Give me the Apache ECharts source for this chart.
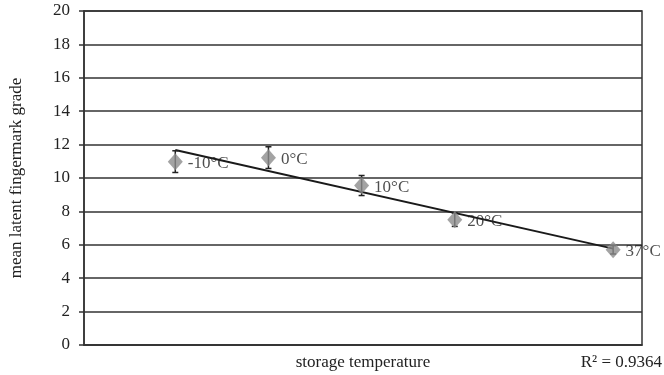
<!DOCTYPE html>
<html><head><meta charset="utf-8">
<script src="https://cdn.jsdelivr.net/npm/echarts@6/dist/echarts.min.js"></script>
<style>html,body{margin:0;padding:0;background:#fff}#c{width:664px;height:375px}</style>
</head><body><div id="c"></div>
<script>
var temps = [-10, 0, 10, 20, 37];
var labels = ['-10°C', '0°C', '10°C', '20°C', '37°C'];
var grades = [10.98, 11.22, 9.55, 7.5, 5.7];
var errors = [0.65, 0.65, 0.6, 0.4, 0.25];
var yTicks = [0, 2, 4, 6, 8, 10, 12, 14, 16, 18, 20];
var r2Text = 'R² = 0.9364';

// least-squares trend line from the data
var n = temps.length, mx = 0, my = 0;
for (var i = 0; i < n; i++) { mx += temps[i]; my += grades[i]; }
mx /= n; my /= n;
var sxy = 0, sxx = 0;
for (i = 0; i < n; i++) { sxy += (temps[i]-mx)*(grades[i]-my); sxx += (temps[i]-mx)*(temps[i]-mx); }
var slope = sxy / sxx, icpt = my - slope*mx;
var trend = [[temps[0], icpt + slope*temps[0]], [temps[n-1], icpt + slope*temps[n-1]]];

var pts = temps.map(function(t, i){ return [t, grades[i]]; });
var errData = temps.map(function(t, i){ return [t, grades[i]-errors[i], grades[i]+errors[i]]; });
var F = '"Liberation Serif","Times New Roman",serif';
var TC = '#222';

var chart = echarts.init(document.getElementById('c'));
chart.setOption({
  animation: false,
  grid: {left: 84, right: 22, top: 11, bottom: 30, containLabel: false, outerBoundsMode: 'none',
    show: true, borderColor: '#333', borderWidth: 1.5, backgroundColor: 'transparent'},
  xAxis: {type: 'value', min: -19.8, max: 40.1, axisLabel: {show: false}, axisTick: {show: false}, splitLine: {show: false},
    axisLine: {show: true, onZero: false, lineStyle: {color: '#333', width: 1.5}},
    name: 'storage temperature', nameLocation: 'middle', nameGap: 9,
    nameTextStyle: {color: TC, fontFamily: F, fontSize: 17}},
  yAxis: {type: 'value', min: yTicks[0], max: yTicks[yTicks.length-1], interval: 2,
    axisLine: {show: true, onZero: false, lineStyle: {color: '#333', width: 1.5}},
    axisTick: {show: true, length: 5, lineStyle: {color: '#333', width: 1.5}},
    axisLabel: {color: TC, fontFamily: F, fontSize: 17, margin: 14},
    splitLine: {show: true, lineStyle: {color: '#333', width: 1.5}},
    name: 'mean latent fingermark grade', nameLocation: 'middle', nameGap: 59, nameRotate: 90,
    nameTextStyle: {color: TC, fontFamily: F, fontSize: 17}},
  graphic: [
    {type: 'text', right: 2, top: 354, style: {text: r2Text, fontFamily: F, fontSize: 17, fill: TC}}
  ],
  series: [
    {type: 'line', data: trend, symbol: 'none', lineStyle: {color: '#1a1a1a', width: 2}, z: 3},
    {type: 'custom', data: errData, z: 4,
      renderItem: function(params, api){
        var x = api.value(0), lo = api.coord([x, api.value(1)]), hi = api.coord([x, api.value(2)]);
        var st = {stroke: '#222', lineWidth: 1.5};
        return {type: 'group', children: [
          {type: 'line', shape: {x1: lo[0], y1: lo[1], x2: hi[0], y2: hi[1]}, style: st},
          {type: 'line', shape: {x1: lo[0]-3, y1: lo[1], x2: lo[0]+3, y2: lo[1]}, style: st},
          {type: 'line', shape: {x1: hi[0]-3, y1: hi[1], x2: hi[0]+3, y2: hi[1]}, style: st}
        ]};
      }},
    {type: 'scatter', data: pts, symbol: 'diamond', symbolSize: [15, 17], z: 5,
      itemStyle: {color: '#8c8c8c'},
      label: {show: true, position: 'right', distance: 5, offset: [0, 2], color: TC, fontFamily: F, fontSize: 17,
        formatter: function(p){ return labels[p.dataIndex]; }}}
  ]
});
</script></body></html>
